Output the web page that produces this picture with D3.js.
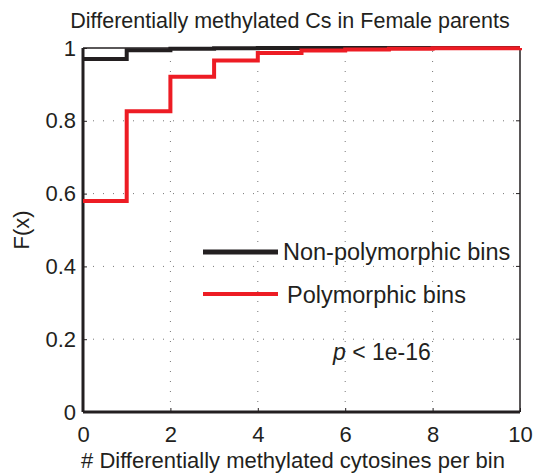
<!DOCTYPE html>
<html>
<head>
<meta charset="utf-8">
<script src="https://cdn.jsdelivr.net/npm/d3@7"></script>
<style>
  body { margin: 0; background: #fff; }
  text { font-family: "Liberation Sans", Arial, sans-serif; fill: #231f20; }
</style>
</head>
<body>
<div id="chart"></div>
<script>
var steps = [0, 1, 2, 3, 4, 5, 6, 7, 8, 9, 10];
var nonPoly = [0.970, 0.994, 0.998, 0.999, 1.0, 1.0, 1.0, 1.0, 1.0, 1.0, 1.0];
var poly = [0.580, 0.826, 0.921, 0.966, 0.986, 0.993, 0.996, 0.998, 0.999, 0.999, 1.0];
var xTicks = [0, 2, 4, 6, 8, 10];
var yTicks = [0, 0.2, 0.4, 0.6, 0.8, 1];

var width = 539, height = 475;
var margin = {left: 83, right: 19, top: 48, bottom: 63};

var svg = d3.select("#chart").append("svg")
    .attr("width", width)
    .attr("height", height);

var x = d3.scaleLinear().domain([0, 10]).range([margin.left, width - margin.right]);
var y = d3.scaleLinear().domain([0, 1]).range([height - margin.bottom, margin.top]);

// dotted grid
svg.selectAll(".gx")
    .data(xTicks.slice(1, -1))
    .enter().append("line")
    .attr("x1", function(d) { return x(d); })
    .attr("x2", function(d) { return x(d); })
    .attr("y1", y(0))
    .attr("y2", y(1))
    .style("stroke", "#777")
    .style("stroke-width", 1)
    .style("stroke-dasharray", "1,9");

svg.selectAll(".gy")
    .data(yTicks.slice(1, -1))
    .enter().append("line")
    .attr("x1", x(0))
    .attr("x2", x(10))
    .attr("y1", function(d) { return y(d); })
    .attr("y2", function(d) { return y(d); })
    .style("stroke", "#777")
    .style("stroke-width", 1)
    .style("stroke-dasharray", "1,9");

// axes
var xAxis = d3.axisBottom(x).tickValues(xTicks).tickSize(-4).tickPadding(14)
    .tickFormat(d3.format("d"));
var yAxis = d3.axisLeft(y).tickValues(yTicks).tickSize(-4).tickPadding(7)
    .tickFormat(function(d) { return d === 0 || d === 1 ? d : d3.format(".1f")(d); });

var gx = svg.append("g").attr("transform", "translate(0," + y(0) + ")").call(xAxis);
var gy = svg.append("g").attr("transform", "translate(" + x(0) + ",0)").call(yAxis);
[gx, gy].forEach(function(g) {
    g.select(".domain").remove();
    g.selectAll(".tick line").style("stroke", "#231f20");
    g.selectAll("text").style("font-size", "22px").style("fill", "#231f20")
        .style("font-family", "'Liberation Sans', Arial, sans-serif");
});

// right side ticks
svg.selectAll(".rt")
    .data(yTicks)
    .enter().append("line")
    .attr("x1", x(10) - 4)
    .attr("x2", x(10))
    .attr("y1", function(d) { return y(d); })
    .attr("y2", function(d) { return y(d); })
    .style("stroke", "#231f20");

// box
svg.append("line").attr("x1", x(10)).attr("x2", x(10)).attr("y1", y(0)).attr("y2", y(1))
    .style("stroke", "#231f20").style("stroke-width", 1.5);
svg.append("line").attr("x1", x(0)).attr("x2", x(10)).attr("y1", y(1)).attr("y2", y(1))
    .style("stroke", "#231f20").style("stroke-width", 1.5);
svg.append("line").attr("x1", x(0)).attr("x2", x(10)).attr("y1", y(0)).attr("y2", y(0))
    .style("stroke", "#231f20").style("stroke-width", 3);
svg.append("line").attr("x1", x(0)).attr("x2", x(0)).attr("y1", y(0)).attr("y2", y(1))
    .style("stroke", "#231f20").style("stroke-width", 3);

// step lines
var line = d3.line()
    .x(function(d) { return x(d[0]); })
    .y(function(d) { return y(d[1]); })
    .curve(d3.curveStepAfter);

function stepData(vals) {
    return steps.map(function(s, i) { return [s, vals[i]]; });
}

svg.append("path")
    .datum(stepData(nonPoly))
    .attr("d", line)
    .style("fill", "none")
    .style("stroke", "#231f20")
    .style("stroke-width", 4);

svg.append("path")
    .datum(stepData(poly))
    .attr("d", line)
    .style("fill", "none")
    .style("stroke", "#ed1c24")
    .style("stroke-width", 4);

// legend
svg.append("line").attr("x1", 203).attr("x2", 278).attr("y1", 252).attr("y2", 252)
    .style("stroke", "#231f20").style("stroke-width", 5);
svg.append("text").attr("x", 283).attr("y", 260).style("font-size", "23.5px")
    .text("Non-polymorphic bins");
svg.append("line").attr("x1", 203).attr("x2", 278).attr("y1", 294).attr("y2", 294)
    .style("stroke", "#ed1c24").style("stroke-width", 4);
svg.append("text").attr("x", 287).attr("y", 303).style("font-size", "23.5px")
    .text("Polymorphic bins");

var pt = svg.append("text").attr("x", 333).attr("y", 360).style("font-size", "23px");
pt.append("tspan").style("font-style", "italic").text("p");
pt.append("tspan").text(" < 1e-16");

// title and labels
svg.append("text").attr("x", 290).attr("y", 28).attr("text-anchor", "middle")
    .style("font-size", "21.5px")
    .text("Differentially methylated Cs in Female parents");
svg.append("text").attr("x", 293).attr("y", 468).attr("text-anchor", "middle")
    .style("font-size", "22px")
    .text("# Differentially methylated cytosines per bin");
svg.append("text").attr("transform", "translate(29,230) rotate(-90)").attr("text-anchor", "middle")
    .style("font-size", "22px")
    .text("F(x)");
</script>
</body>
</html>
